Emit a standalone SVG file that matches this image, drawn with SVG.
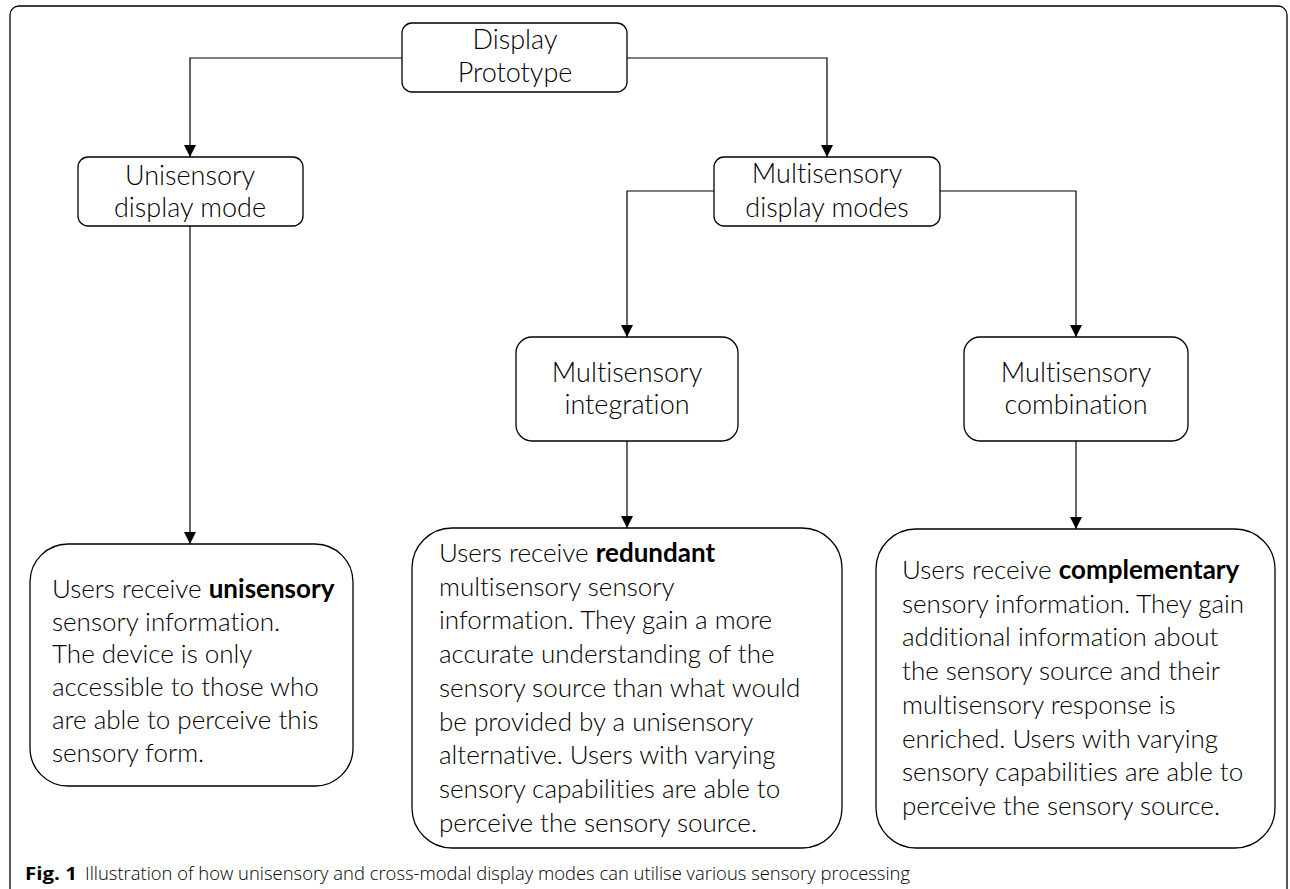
<svg xmlns="http://www.w3.org/2000/svg" width="1290" height="889" viewBox="0 0 1290 889">
<style>
text{font-variant-ligatures:none}
.box{fill:#fff;stroke:#000;stroke-width:1.3}
.lbl{font-family:Lato,"Liberation Sans",sans-serif;font-weight:300;font-size:27px;fill:#000;text-anchor:middle}
.body{font-family:Lato,"Liberation Sans",sans-serif;font-weight:300;font-size:26px;fill:#000}
.b{font-weight:700}
.conn{fill:none;stroke:#000;stroke-width:1.2}
.cap{font-family:"Open Sans","Liberation Sans",sans-serif;font-size:18px;fill:#000}
</style>
<defs>
<marker id="arr" viewBox="0 0 10 10" refX="10" refY="5" markerWidth="12" markerHeight="12" markerUnits="userSpaceOnUse" orient="auto">
<path d="M0,0 L10,5 L0,10 z" fill="#000"/>
</marker>
</defs>
<rect x="10" y="6" width="1277" height="900" rx="9" fill="none" stroke="#000" stroke-width="1.3"/>
<g id="connectors">
<path class="conn" d="M402,58 H190 V157" marker-end="url(#arr)"/>
<path class="conn" d="M627,58 H827 V157" marker-end="url(#arr)"/>
<path class="conn" d="M714,191 H627 V337" marker-end="url(#arr)"/>
<path class="conn" d="M940,191 H1076 V337" marker-end="url(#arr)"/>
<path class="conn" d="M190,226 V544" marker-end="url(#arr)"/>
<path class="conn" d="M627,441 V528" marker-end="url(#arr)"/>
<path class="conn" d="M1076,441 V529" marker-end="url(#arr)"/>
</g>
<g id="display-prototype">
<rect class="box" x="402" y="23" width="225" height="69" rx="10"/>
<text class="lbl" x="515" y="49">Display</text>
<text class="lbl" x="515" y="82">Prototype</text>
</g>
<g id="unisensory-mode">
<rect class="box" x="78" y="157" width="225" height="69" rx="10"/>
<text class="lbl" x="190" y="185">Unisensory</text>
<text class="lbl" x="190" y="217">display mode</text>
</g>
<g id="multisensory-modes">
<rect class="box" x="714" y="157" width="226" height="69" rx="10"/>
<text class="lbl" x="827" y="183">Multisensory</text>
<text class="lbl" x="827" y="217">display modes</text>
</g>
<g id="integration">
<rect class="box" x="516" y="337" width="222" height="104" rx="16"/>
<text class="lbl" x="627" y="382">Multisensory</text>
<text class="lbl" x="627" y="414">integration</text>
</g>
<g id="combination">
<rect class="box" x="964" y="337" width="224" height="104" rx="16"/>
<text class="lbl" x="1076" y="382">Multisensory</text>
<text class="lbl" x="1076" y="414">combination</text>
</g>
<g id="unisensory-info">
<rect class="box" x="30" y="544" width="323" height="242" rx="38"/>
<text class="body" x="52" y="598">Users receive <tspan class="b">unisensory</tspan></text>
<text class="body" x="52" y="630.7">sensory information.</text>
<text class="body" x="52" y="663.4">The device is only</text>
<text class="body" x="52" y="696.1">accessible to those who</text>
<text class="body" x="52" y="728.8">are able to perceive this</text>
<text class="body" x="52" y="761.5">sensory form.</text>
</g>
<g id="redundant-info">
<rect class="box" x="412" y="528" width="430" height="320" rx="40"/>
<text class="body" x="439" y="562">Users receive <tspan class="b">redundant</tspan></text>
<text class="body" x="439" y="595.7">multisensory sensory</text>
<text class="body" x="439" y="629.4">information. They gain a more</text>
<text class="body" x="439" y="663.1">accurate understanding of the</text>
<text class="body" x="439" y="696.8">sensory source than what would</text>
<text class="body" x="439" y="730.5">be provided by a unisensory</text>
<text class="body" x="439" y="764.2">alternative. Users with varying</text>
<text class="body" x="439" y="797.9">sensory capabilities are able to</text>
<text class="body" x="439" y="831.6">perceive the sensory source.</text>
</g>
<g id="complementary-info">
<rect class="box" x="876" y="529" width="399" height="319" rx="40"/>
<text class="body" x="902" y="579">Users receive <tspan class="b">complementary</tspan></text>
<text class="body" x="902" y="612.7">sensory information. They gain</text>
<text class="body" x="902" y="646.4">additional information about</text>
<text class="body" x="902" y="680.1">the sensory source and their</text>
<text class="body" x="902" y="713.8">multisensory response is</text>
<text class="body" x="902" y="747.5">enriched. Users with varying</text>
<text class="body" x="902" y="781.2">sensory capabilities are able to</text>
<text class="body" x="902" y="814.9">perceive the sensory source.</text>
</g>
<text class="cap" x="25" y="880" font-weight="700" textLength="52" lengthAdjust="spacingAndGlyphs">Fig. 1</text>
<text class="cap" x="85" y="880" font-weight="300" textLength="825" lengthAdjust="spacingAndGlyphs">Illustration of how unisensory and cross-modal display modes can utilise various sensory processing</text>
</svg>
